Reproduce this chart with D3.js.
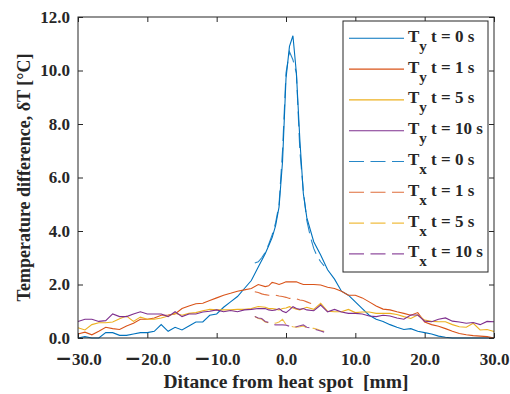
<!DOCTYPE html>
<html>
<head>
<meta charset="utf-8">
<script src="https://cdn.jsdelivr.net/npm/d3@7"></script>
<style>
  body { margin: 0; background: #fff; }
  text { font-family: "Liberation Serif", "Times New Roman", serif; font-weight: bold; fill: #262626; }
</style>
</head>
<body>
<div id="chart"></div>
<script>
// distance grid of the Ty profiles [mm]
const distY = [-30, -29, -28, -27, -26, -25, -24, -23, -22, -21, -20, -19, -18, -17, -16, -15,
  -14, -13, -12, -11, -10, -9, -8, -7, -6, -5, -4, -3, -2.5, -2, -1.5, -1, -0.5, 0,
  0.5, 1, 1.5, 2, 2.5, 3, 4, 5, 6, 7, 8, 9, 10, 11, 12, 13, 14, 15, 16, 17, 18, 19,
  20, 21, 22, 23, 24, 25, 26, 27, 28, 29, 30]

const ty0 = [0.0, 0.05, 0.0, 0.0, 0.2, 0.2, 0.1, 0.1, 0.15, 0.2, 0.2, 0.25, 0.5, 0.25, 0.4, 0.3,
  0.45, 0.6, 0.6, 0.85, 0.9, 1.15, 1.35, 1.55, 1.85, 2.15, 2.65, 3.15, 3.45, 3.75, 4.2, 4.9, 6.6, 9.7,
  10.9, 11.3, 9.9, 7.4, 5.4, 4.5, 3.6, 3.1, 2.55, 2.2, 1.75, 1.6, 1.35, 1.1, 0.85, 0.7, 0.62, 0.5, 0.4, 0.32, 0.35, 0.25,
  0.2, 0.15, 0.07, 0.03, 0, 0, 0, 0, 0, 0, 0]
const ty1 = [0.15, 0.22, 0.12, 0.25, 0.4, 0.35, 0.32, 0.45, 0.55, 0.7, 0.7, 0.75, 0.85, 0.86, 0.9, 1.1,
  1.2, 1.28, 1.3, 1.4, 1.5, 1.6, 1.67, 1.75, 1.8, 1.85, 2.0, 1.92, 1.95, 2.08, 2.05, 2.0, 2.05, 2.1,
  2.1, 2.1, 2.1, 2.05, 2.0, 2.0, 2.0, 1.98, 1.9, 1.85, 1.75, 1.6, 1.6, 1.5, 1.35, 1.2, 1.08, 1.05, 0.98, 0.92, 0.85, 0.95,
  0.6, 0.5, 0.44, 0.35, 0.25, 0.17, 0.12, 0.09, 0.07, 0.05, 0.0]
const ty5 = [0.38, 0.3, 0.5, 0.57, 0.57, 0.6, 0.72, 0.82, 0.62, 0.78, 0.7, 0.7, 0.75, 0.82, 0.93, 0.85,
  0.92, 0.95, 1.02, 1.07, 1.05, 1.05, 1.05, 1.07, 1.07, 1.1, 1.18, 1.15, 1.1, 1.1, 1.08, 1.05, 1.1, 1.12,
  1.17, 1.12, 1.08, 1.05, 1.1, 1.15, 1.07, 1.3, 1.0, 0.98, 0.98, 1.07, 0.95, 0.97, 0.97, 0.92, 0.92, 0.92, 0.88, 0.8, 0.73, 0.86,
  0.67, 0.62, 0.61, 0.61, 0.5, 0.42, 0.4, 0.55, 0.3, 0.32, 0.24]
const ty10 = [0.62, 0.7, 0.7, 0.62, 0.65, 0.9, 0.8, 0.8, 0.9, 0.98, 0.9, 0.9, 0.9, 0.8, 0.98, 0.8,
  0.9, 0.9, 0.97, 1.0, 1.05, 0.98, 1.03, 0.98, 1.05, 1.07, 1.1, 1.1, 1.05, 1.03, 1.05, 1.1, 1.0, 0.95,
  1.05, 1.17, 1.1, 1.07, 1.1, 1.05, 1.02, 1.23, 0.98, 1.07, 0.97, 0.92, 0.92, 0.9, 0.82, 0.8, 0.85, 0.82, 0.75, 0.7, 0.86, 0.86,
  0.63, 0.61, 0.7, 0.75, 0.63, 0.6, 0.55, 0.58, 0.5, 0.62, 0.61]

// distance grid of the Tx profiles [mm]
const distX = [-4.5, -4, -3.5, -3, -2.5, -2, -1.5, -1, -0.5, 0, 0.5, 1, 1.5, 2, 2.5, 3, 3.5, 4, 4.5, 5, 5.5]
const tx0 = [2.8, 2.85, 3.0, 3.2, 3.5, 3.85, 4.3, 5.0, 7.0, 9.9, 10.7, 10.4, 9.9, 7.0, 5.5, 4.4, 3.8, 3.35, 3.05, 2.85, 2.7]
const tx1 = [1.73, 1.7, 1.65, 1.62, 1.6, 1.6, 1.6, 1.57, 1.55, 1.52, 1.48, 1.48, 1.46, 1.42, 1.4, 1.35, 1.3, 1.25, null, null, null]
const tx5 = [0.8, 0.73, 0.7, 0.6, 0.57, 0.58, 0.55, 0.6, 0.7, 0.5, 0.45, 0.42, 0.4, 0.42, 0.45, 0.38, 0.37, 0.36, 0.33, 0.28, 0.25]
const tx10 = [0.8, 0.75, 0.73, 0.62, 0.58, 0.52, 0.49, 0.49, 0.49, 0.48, 0.44, 0.4, 0.42, 0.46, 0.49, 0.4, 0.38, 0.35, 0.3, 0.26, 0.22]

const xTicks = [-30, -20, -10, 0, 10, 20, 30]
const xTickLabels = ['\u221230.0', '\u221220.0', '\u221210.0', '0.0', '10.0', '20.0', '30.0']
const yTicks = [0, 2, 4, 6, 8, 10, 12]
const yTickLabels = ['0.0', '2.0', '4.0', '6.0', '8.0', '10.0', '12.0']

const seriesNames = ['y', 'y', 'y', 'y', 'x', 'x', 'x', 'x']
const seriesTimes = ['0', '1', '5', '10', '0', '1', '5', '10']
const colors = ['#0072BD', '#D95319', '#EDB120', '#7E2F8E']

const width = 510, height = 394
const plotLeft = 78, plotRight = 494, plotTop = 17, plotBottom = 338

const x = d3.scaleLinear().domain([-30, 30]).range([plotLeft, plotRight])
const y = d3.scaleLinear().domain([0, 12]).range([plotBottom, plotTop])

const svg = d3.select('#chart').append('svg')
    .attr('width', width)
    .attr('height', height)

const series = [
    {xs: distY, ys: ty0, c: colors[0], dash: null},
    {xs: distY, ys: ty1, c: colors[1], dash: null},
    {xs: distY, ys: ty5, c: colors[2], dash: null},
    {xs: distY, ys: ty10, c: colors[3], dash: null},
    {xs: distX, ys: tx0, c: colors[0], dash: '15,6.5'},
    {xs: distX, ys: tx1, c: colors[1], dash: '15,6.5'},
    {xs: distX, ys: tx5, c: colors[2], dash: '15,6.5'},
    {xs: distX, ys: tx10, c: colors[3], dash: '15,6.5'}
]

const line = d3.line()
    .defined(d => d[1] != null)
    .x(d => x(d[0]))
    .y(d => y(d[1]))

const plot = svg.append('g')
series.forEach(s => {
    plot.append('path')
        .datum(s.xs.map((v, i) => [v, s.ys[i]]))
        .attr('fill', 'none')
        .attr('stroke', s.c)
        .attr('stroke-width', 1.1)
        .attr('stroke-dasharray', s.dash)
        .attr('stroke-opacity', s.dash ? 0.85 : 1)
        .attr('d', line)
})

// axes, ticks pointing inward on all four sides
const xAxisG = svg.append('g')
    .attr('transform', `translate(0,${plotBottom})`)
    .call(d3.axisBottom(x).tickValues(xTicks).tickSize(-5).tickPadding(15)
        .tickFormat((d, i) => xTickLabels[i]))
svg.append('g')
    .attr('transform', `translate(0,${plotTop})`)
    .call(d3.axisTop(x).tickValues(xTicks).tickSize(-5).tickFormat(''))
svg.append('g')
    .attr('transform', `translate(${plotLeft},0)`)
    .call(d3.axisLeft(y).tickValues(yTicks).tickSize(-5).tickPadding(8)
        .tickFormat((d, i) => yTickLabels[i]))
svg.append('g')
    .attr('transform', `translate(${plotRight},0)`)
    .call(d3.axisRight(y).tickValues(yTicks).tickSize(-5).tickFormat(''))

svg.selectAll('.domain').remove()
svg.selectAll('.tick line').attr('stroke', '#262626')
svg.selectAll('.tick text')
    .attr('font-size', 17)
    .attr('font-family', null)
    .attr('fill', '#262626')

// wider minus sign, as in the original tick labels
xAxisG.selectAll('.tick text').each(function() {
    const el = d3.select(this)
    const s = el.text()
    if (s.startsWith('\u2212')) {
        el.text(null)
        el.append('tspan').attr('font-family', 'DejaVu Sans').attr('font-size', 20).text('\u2212')
        el.append('tspan').text(s.slice(1))
    }
})

svg.append('rect')
    .attr('x', plotLeft).attr('y', plotTop)
    .attr('width', plotRight - plotLeft).attr('height', plotBottom - plotTop)
    .attr('fill', 'none')
    .attr('stroke', '#262626')
    .attr('stroke-width', 1)

svg.append('text')
    .attr('x', (plotLeft + plotRight) / 2)
    .attr('y', 388)
    .attr('text-anchor', 'middle')
    .attr('font-size', 19.5)
    .style('white-space', 'pre')
    .text('Ditance from heat spot  [mm]')

svg.append('text')
    .attr('transform', `translate(30,${(plotTop + plotBottom) / 2}) rotate(-90)`)
    .attr('text-anchor', 'middle')
    .attr('font-size', 18)
    .text('Temperature difference, \u03B4T [\u00B0C]')

// legend
const legend = svg.append('g')
legend.append('rect')
    .attr('x', 343).attr('y', 21)
    .attr('width', 145).attr('height', 251)
    .attr('fill', '#fff')
    .attr('stroke', '#262626')
    .attr('stroke-width', 1)

series.forEach((s, i) => {
    const ly = 38.3 + i * 30.8
    legend.append('line')
        .attr('x1', 349).attr('x2', 404)
        .attr('y1', ly).attr('y2', ly)
        .attr('stroke', s.c)
        .attr('stroke-width', 1.1)
        .attr('stroke-dasharray', s.dash)
        .attr('stroke-opacity', s.dash ? 0.85 : 1)
    const t = legend.append('text')
        .attr('x', 408)
        .attr('y', ly + 3.5)
        .attr('font-size', 17)
        .style('white-space', 'pre')
    t.append('tspan').text('T')
    t.append('tspan').attr('dy', 9).attr('font-size', 15).text(seriesNames[i])
    t.append('tspan').attr('dy', -9).text(` t = ${seriesTimes[i]} s`)
})
</script>
</body>
</html>
